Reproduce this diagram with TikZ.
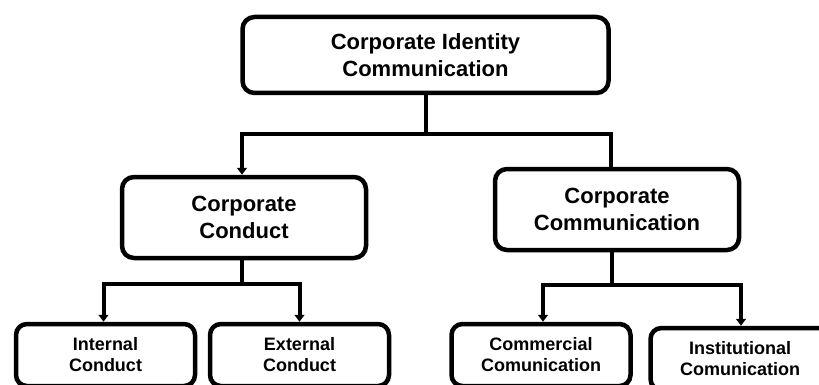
\documentclass[tikz,border=0pt]{standalone}
\usepackage{fontspec}
\setmainfont{Liberation Sans}
\usetikzlibrary{arrows.meta}
\tikzset{
  bigbox/.style={draw,line width=4.5pt,rounded corners=12pt,align=center,
    font=\fontsize{22}{27}\selectfont\bfseries,inner sep=0pt},
  smallbox/.style={draw,line width=4.5pt,rounded corners=11pt,align=center,
    font=\fontsize{18}{21}\selectfont\bfseries,inner sep=0pt,minimum width=179pt,minimum height=62pt},
  link/.style={line width=4pt},
  tip/.style={-{Triangle[length=7pt,width=10pt]}}
}
\begin{document}
\begin{tikzpicture}[x=1pt,y=-1pt]
      \clip (0,0) rectangle (819,385);
      \fill[white] (0,0) rectangle (819,385);
      %\draw[step=20,gray,very thin] (0,0) grid (819,385);
      \node[bigbox,minimum width=366pt,minimum height=76pt] (cic) at (425.5,55) {Corporate Identity\\Communication};
      \node[bigbox,minimum width=244pt,minimum height=81pt] (cc) at (244,217.5) {Corporate\\Conduct};
      \node[bigbox,minimum width=244pt,minimum height=81pt] (ccm) at (617,209.5) {Corporate\\Communication};
      % bottom row, cut off by the page edge
      \node[smallbox] (ic) at (105.5,355) {Internal\\Conduct};
      \node[smallbox] (ec) at (299.5,355) {External\\Conduct};
      \node[smallbox] (kc) at (541,355) {Commercial\\Comunication};
      \node[smallbox] (ik) at (740,359) {Institutional\\Comunication};
      \draw[link] (cic.south) -- ++(0,39) coordinate (j1);
      \draw[link,tip] (j1) -| ([xshift=-2pt]cc.north);
      \draw[link] (j1) -| ([xshift=-6pt]ccm.north);
      \draw[link] ([xshift=-2pt]cc.south) -- ++(0,24) coordinate (j2);
      \draw[link,tip] (j2) -| ([xshift=-2pt]ic.north);
      \draw[link,tip] (j2) -| (ec.north);
      \draw[link] ([xshift=-5pt]ccm.south) -- ++(0,33) coordinate (j3);
      \draw[link,tip] (j3) -| ([xshift=2pt]kc.north);
      \draw[link,tip] (j3) -| ([xshift=1pt]ik.north);
    \end{tikzpicture}
\end{document}
